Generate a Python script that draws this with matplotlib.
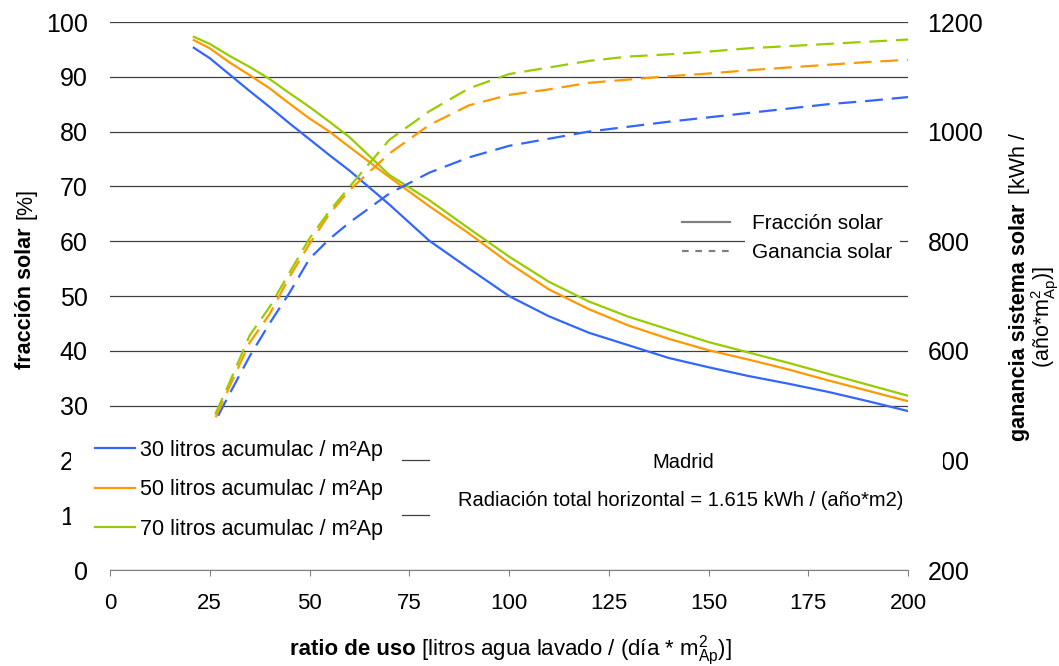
import matplotlib
matplotlib.use('Agg')
import matplotlib.pyplot as plt
from matplotlib.patches import Rectangle
from matplotlib.lines import Line2D

plt.rcParams['font.family'] = ['Liberation Sans', 'DejaVu Sans']
plt.rcParams['mathtext.fontset'] = 'custom'
plt.rcParams['mathtext.rm'] = 'Liberation Sans'
plt.rcParams['mathtext.it'] = 'Liberation Sans:italic'
plt.rcParams['mathtext.bf'] = 'Liberation Sans:bold'

# ratio de uso [litros / (día * m2Ap)]
ratio = [21, 25, 30, 35, 40, 45, 50, 55, 60, 70, 80, 90, 100,
         110, 120, 130, 140, 150, 160, 170, 180, 190, 200]

# fracción solar [%]
fraccion_30 = [95.3, 93.4, 90.4, 87.4, 84.5, 81.5, 78.6, 75.7, 72.9, 66.7, 60.1, 55.0, 50.0,
               46.3, 43.3, 41.0, 38.7, 37.0, 35.4, 34.0, 32.5, 30.8, 29.0]
fraccion_50 = [96.7, 95.2, 92.6, 90.3, 87.9, 85.1, 82.4, 80.0, 77.2, 71.7, 66.4, 61.4, 56.0,
               51.2, 47.6, 44.6, 42.2, 40.1, 38.4, 36.6, 34.6, 32.7, 30.8]
fraccion_70 = [97.3, 96.0, 93.8, 91.8, 89.6, 87.0, 84.5, 81.8, 79.0, 72.1, 67.5, 62.3, 57.2,
               52.6, 49.0, 46.2, 43.9, 41.6, 39.7, 37.8, 35.8, 33.8, 31.8]

# ganancia sistema solar [kWh / (año*m2Ap)]
ganancia_30 = [395, 452, 522, 590, 650, 706, 768, 804, 834, 887, 925, 953, 974,
               987, 1000, 1009, 1018, 1026, 1034, 1042, 1050, 1056, 1063]
ganancia_50 = [390, 455, 535, 615, 667, 735, 795, 850, 893, 960, 1012, 1048, 1067,
               1077, 1089, 1095, 1101, 1106, 1112, 1117, 1122, 1127, 1131]
ganancia_70 = [395, 462, 543, 628, 680, 743, 805, 855, 899, 985, 1037, 1079, 1105,
               1117, 1129, 1137, 1141, 1146, 1152, 1156, 1160, 1164, 1168]

series_labels = ['30 litros acumulac / m²Ap', '50 litros acumulac / m²Ap', '70 litros acumulac / m²Ap']
colors = ['#3366FF', '#FF9900', '#99CC00']

W, H = 1059, 666


def fx(px):
    return px / W


def fy(py):
    return 1 - py / H


fig = plt.figure(figsize=(W / 100, H / 100), dpi=100)
ax1 = fig.add_axes([fx(110), fy(570), (908 - 110) / W, (570 - 22) / H])
ax2 = ax1.twinx()

solid = []
for vals, c in zip([fraccion_30, fraccion_50, fraccion_70], colors):
    l, = ax1.plot(ratio, vals, color=c, lw=1.6)
    solid.append(l)
for vals, c in zip([ganancia_30, ganancia_50, ganancia_70], colors):
    ax2.plot(ratio, vals, color=c, lw=1.6, linestyle=(0, (8, 4)))

ax1.set_xlim(0, 200)
ax1.set_ylim(0, 100)
ax2.set_ylim(200, 1200)
ax1.set_xticks(range(0, 201, 25))
ax1.set_yticks(range(0, 101, 10))
ax2.set_yticks(range(200, 1201, 200))

ax1.set_axisbelow(True)
ax1.yaxis.grid(True, color='#404040', lw=0.9)
for ax in (ax1, ax2):
    for s in ('top', 'left', 'right'):
        ax.spines[s].set_visible(False)
ax2.spines['bottom'].set_visible(False)
ax1.spines['bottom'].set_color('#808080')

ax1.tick_params(axis='y', length=0, pad=16, labelsize=18)
ax2.tick_params(axis='y', length=0, pad=14, labelsize=18)
ax1.tick_params(axis='x', length=4.5, color='#808080', pad=12, labelsize=16)

# axis titles (bold + normal parts)
fig.text(fx(31), fy(298), 'fracción solar', rotation=90, rotation_mode='anchor',
         ha='center', va='baseline', fontsize=15.5, fontweight='bold')
fig.text(fx(31), fy(203), '[%]', rotation=90, rotation_mode='anchor',
         ha='center', va='baseline', fontsize=15.5)
fig.text(fx(1025), fy(322), 'ganancia sistema solar', rotation=90, rotation_mode='anchor',
         ha='center', va='baseline', fontsize=15.5, fontweight='bold')
fig.text(fx(1025), fy(164), '[kWh /', rotation=90, rotation_mode='anchor',
         ha='center', va='baseline', fontsize=15.5)
fig.text(fx(1050), fy(317), r'(año*$\mathrm{m}^2_{\mathrm{Ap}}$)]', rotation=90, rotation_mode='anchor',
         ha='center', va='baseline', fontsize=15.5)

# x title: bold part followed by normal part, centred under the axes
renderer = fig.canvas.get_renderer()
xt1 = fig.text(0, fy(655), 'ratio de uso', ha='left', va='baseline', fontsize=16, fontweight='bold')
xt2 = fig.text(0, fy(655), r'[litros agua lavado / (día * $\mathrm{m}^2_{\mathrm{Ap}}$)]',
               ha='left', va='baseline', fontsize=16)
w1 = xt1.get_window_extent(renderer).width
w2 = xt2.get_window_extent(renderer).width
gap = 6
start = 511 - (w1 + gap + w2) / 2
xt1.set_x(fx(start))
xt2.set_x(fx(start + w1 + gap))

# series legend, covering the lower tick labels
fig.add_artist(Rectangle((fx(71), fy(556)), (90 - 71) / W, (556 - 421) / H,
                         transform=fig.transFigure, facecolor='white', edgecolor='none', zorder=1))
fig.legend(solid, series_labels, loc='upper left', bbox_to_anchor=(fx(76), fy(421)),
           bbox_transform=fig.transFigure, borderaxespad=0, borderpad=0.88,
           handlelength=1.86, handletextpad=0.25, labelspacing=0.86, fontsize=15.5,
           frameon=True, fancybox=False, facecolor='white', edgecolor='none', framealpha=1)

# box with location text
fig.add_artist(Rectangle((fx(430), fy(552)), (943 - 430) / W, (552 - 425) / H,
                         transform=fig.transFigure, facecolor='white', edgecolor='none', zorder=1))
fig.text(fx(683), fy(463), 'Madrid', ha='center', va='center', fontsize=14.5)
fig.text(fx(681), fy(500), 'Radiación total horizontal = 1.615 kWh / (año*m2)',
         ha='center', va='center', fontsize=14.5)

# line style legend
fig.add_artist(Rectangle((fx(745), fy(270)), (900 - 745) / W, (270 - 210) / H,
                         transform=fig.transFigure, facecolor='white', edgecolor='none', zorder=1))
style_handles = [Line2D([], [], color='#808080', lw=1.6),
                 Line2D([], [], color='#808080', lw=1.6, linestyle=(0, (3, 3)))]
fig.legend(style_handles, ['Fracción solar', 'Ganancia solar'], loc='upper left',
           bbox_to_anchor=(fx(682), fy(214)), bbox_transform=fig.transFigure,
           borderaxespad=0, borderpad=0, handlelength=2.3, handletextpad=1.05,
           labelspacing=0.5, fontsize=15, frameon=False)

fig.savefig('out.png', dpi=100)
